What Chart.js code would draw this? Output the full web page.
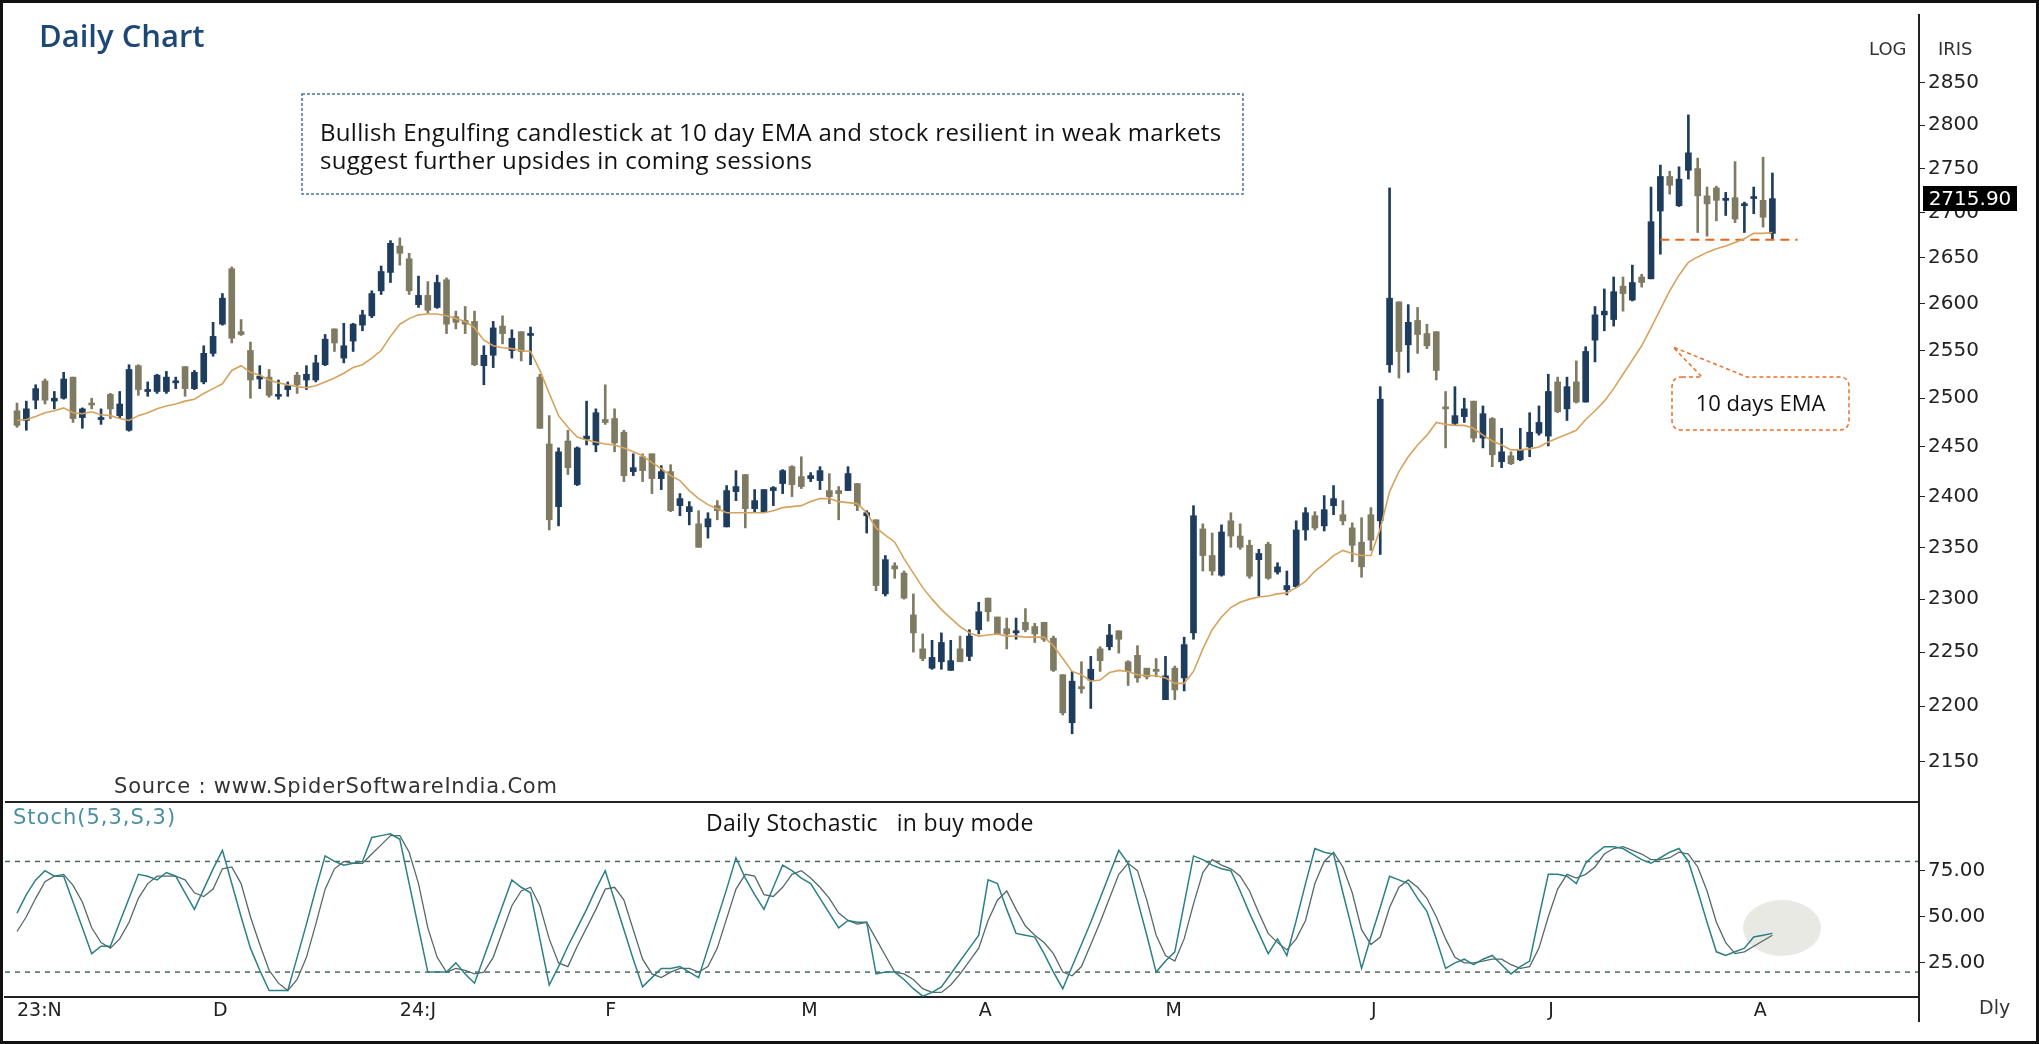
<!DOCTYPE html>
<html>
<head>
<meta charset="utf-8">
<script src="https://cdn.jsdelivr.net/npm/chart.js@4.4.0/dist/chart.umd.min.js"></script>
<style>
  body { margin: 0; background: #fff; }
  #page { position: relative; width: 2039px; height: 1044px; overflow: hidden; background: #fff; }
  canvas { position: absolute; left: 0; }
  svg { position: absolute; left: 0; top: 0; }
  .txt { position: absolute; white-space: pre; line-height: 1; }
  .dv { font-family: "DejaVu Sans", sans-serif; }
  .os { font-family: "Open Sans", sans-serif; }
</style>
</head>
<body>
<div id="page">
  <svg width="2039" height="1044" style="z-index:0">
    <ellipse cx="1782" cy="928" rx="39" ry="28" fill="#e9e9e3" />
  </svg>
  <canvas id="priceChart" width="2039" height="803" style="top:0px; z-index:1"></canvas>
  <canvas id="stochChart" width="2039" height="254" style="top:790px; z-index:1"></canvas>
  <svg width="2039" height="1044" style="z-index:2">
    <rect x="1.5" y="1.5" width="2036" height="1041" fill="none" stroke="#111" stroke-width="3" />
    <line x1="5" y1="802" x2="1919" y2="802" stroke="#222" stroke-width="2" />
    <line x1="1919" y1="15" x2="1919" y2="1022" stroke="#222" stroke-width="2" />
    <rect x="302" y="94" width="941" height="100" fill="none" stroke="#4f7398" stroke-width="1.5" stroke-dasharray="3 2" />
    <path d="M 1682 377 L 1702 377 L 1673 347 L 1747 377 L 1839 377 Q 1849 377 1849 387 L 1849 420 Q 1849 430 1839 430 L 1682 430 Q 1672 430 1672 420 L 1672 387 Q 1672 377 1682 377 Z"
          fill="none" stroke="#e8702a" stroke-width="1.5" stroke-dasharray="4 3" />
  </svg>
  <div style="position:absolute; left:0; top:0; width:2039px; height:1044px; z-index:3">
    <div class="txt os" style="left:39px; top:20px; font-size:31px; font-weight:600; color:#1d4876">Daily Chart</div>
    <div class="txt os" style="left:320px; top:118px; font-size:24px; letter-spacing:0.3px; line-height:28px; color:#111">Bullish Engulfing candlestick at 10 day EMA and stock resilient in weak markets
suggest further upsides in coming sessions</div>
    <div class="txt os" style="left:1672px; width:177px; text-align:center; top:391px; font-size:22px; font-weight:500; color:#111">10 days EMA</div>
    <div class="txt dv" style="left:1869px; top:40px; font-size:18px; color:#333">LOG</div>
    <div class="txt dv" style="left:1938px; top:40px; font-size:18px; color:#333">IRIS</div>
    <div class="txt dv" style="left:1923px; top:186px; width:94px; height:25px; line-height:25px; text-align:center; background:#000; font-size:20px; color:#fff">2715.90</div>
    <div class="txt dv" style="left:114px; top:776px; font-size:21px; letter-spacing:0.8px; color:#333">Source : www.SpiderSoftwareIndia.Com</div>
    <div class="txt dv" style="left:13px; top:807px; font-size:21px; letter-spacing:1px; color:#4b8fa1">Stoch(5,3,S,3)</div>
    <div class="txt os" style="left:706px; top:811px; font-size:23px; font-weight:500; letter-spacing:0.3px; color:#111">Daily Stochastic   in buy mode</div>
    <div class="txt dv" style="left:1979px; top:998px; font-size:19px; color:#333">Dly</div>
  </div>
</div>

<script>
// daily candles, Nov 2023 - Aug 2024
const opens = [
  2487,2477,2498,2518,2497,2500,2522,2480,2495,2478,
  2504,2482,2467,2534,2507,2507,2507,2516,2533,2510,
  2517,2547,2578,2638,2570,2550,2520,2522,2502,2509,
  2524,2519,2519,2535,2573,2542,2560,2577,2587,2614,
  2634,2663,2649,2599,2609,2596,2626,2586,2582,2581,
  2534,2545,2576,2550,2570,2566,2522,2453,2390,2456,
  2412,2458,2452,2478,2479,2465,2425,2440,2443,2418,
  2425,2391,2385,2373,2370,2391,2370,2405,2422,2388,
  2385,2406,2413,2430,2420,2418,2416,2406,2406,2406,
  2413,2381,2377,2305,2332,2325,2285,2253,2235,2241,
  2233,2253,2246,2271,2301,2283,2272,2268,2278,2274,
  2278,2263,2229,2185,2218,2224,2253,2255,2270,2241,
  2247,2235,2234,2206,2235,2226,2268,2368,2342,2323,
  2376,2361,2352,2338,2353,2326,2309,2312,2367,2381,
  2371,2391,2382,2369,2355,2382,2376,2535,2602,2556,
  2582,2568,2570,2491,2474,2481,2497,2459,2479,2435,
  2441,2437,2450,2464,2461,2517,2489,2517,2496,2561,
  2588,2583,2619,2604,2629,2627,2702,2741,2708,2748,
  2750,2719,2728,2714,2717,2708,2716,2714,2677
];
const highs = [
  2495,2497,2514,2520,2507,2527,2522,2490,2500,2489,
  2505,2507,2535,2535,2517,2525,2528,2522,2533,2529,
  2555,2580,2611,2640,2583,2559,2534,2530,2519,2517,
  2527,2534,2545,2567,2573,2579,2579,2593,2614,2641,
  2669,2672,2655,2630,2624,2631,2628,2592,2597,2592,
  2555,2581,2587,2572,2570,2575,2525,2482,2449,2467,
  2450,2497,2489,2514,2489,2467,2443,2443,2443,2431,
  2432,2403,2395,2386,2384,2396,2411,2426,2422,2407,
  2407,2410,2427,2431,2440,2424,2430,2423,2410,2430,
  2413,2386,2377,2342,2335,2327,2305,2267,2261,2268,
  2261,2265,2271,2297,2301,2283,2282,2282,2291,2277,
  2278,2265,2229,2232,2241,2246,2255,2276,2270,2242,
  2256,2235,2244,2246,2237,2264,2391,2373,2364,2372,
  2384,2373,2357,2348,2355,2335,2327,2376,2389,2385,
  2401,2411,2396,2374,2379,2389,2512,2728,2602,2599,
  2596,2578,2570,2507,2512,2500,2497,2492,2480,2469,
  2445,2469,2485,2492,2525,2522,2522,2539,2554,2597,
  2616,2629,2629,2642,2632,2729,2754,2747,2752,2812,
  2762,2729,2730,2723,2758,2712,2729,2763,2745
];
const lows = [
  2470,2467,2489,2494,2489,2499,2475,2469,2489,2473,
  2479,2480,2466,2503,2502,2505,2505,2510,2502,2509,
  2515,2544,2577,2558,2566,2500,2510,2501,2499,2502,
  2505,2509,2517,2534,2549,2537,2549,2571,2585,2610,
  2623,2642,2610,2596,2590,2595,2568,2573,2568,2534,
  2514,2532,2557,2542,2539,2535,2469,2367,2371,2422,
  2411,2452,2445,2473,2445,2415,2421,2415,2403,2407,
  2385,2381,2372,2350,2359,2377,2370,2396,2369,2385,
  2384,2391,2403,2400,2408,2415,2407,2393,2377,2406,
  2386,2364,2308,2303,2320,2300,2250,2242,2234,2234,
  2233,2241,2242,2267,2279,2267,2253,2262,2269,2259,
  2260,2232,2192,2175,2212,2198,2232,2252,2249,2219,
  2222,2225,2227,2206,2206,2214,2262,2327,2323,2322,
  2350,2348,2320,2303,2319,2324,2304,2311,2357,2367,
  2366,2382,2372,2336,2321,2347,2343,2527,2521,2527,
  2547,2552,2519,2449,2472,2475,2455,2449,2430,2429,
  2432,2436,2440,2462,2451,2485,2477,2495,2496,2538,
  2571,2576,2592,2603,2618,2627,2654,2721,2707,2738,
  2678,2674,2691,2697,2689,2678,2699,2684,2670
];
const closes = [
  2472,2489,2510,2498,2500,2520,2479,2489,2493,2479,
  2489,2494,2530,2509,2509,2524,2522,2517,2510,2527,
  2547,2565,2606,2563,2567,2519,2523,2503,2504,2513,
  2514,2525,2537,2562,2558,2555,2578,2588,2611,2635,
  2666,2655,2614,2609,2593,2623,2578,2580,2578,2535,
  2545,2574,2568,2563,2549,2568,2469,2377,2445,2429,
  2449,2461,2485,2475,2454,2421,2429,2426,2418,2425,
  2386,2398,2390,2350,2378,2386,2406,2410,2388,2396,
  2407,2409,2426,2412,2410,2421,2426,2400,2403,2423,
  2391,2384,2313,2338,2329,2301,2268,2244,2245,2259,
  2242,2241,2265,2288,2288,2267,2267,2270,2271,2267,
  2262,2233,2194,2223,2216,2234,2242,2266,2262,2232,
  2226,2227,2232,2228,2215,2257,2381,2342,2327,2365,
  2361,2350,2322,2344,2320,2331,2313,2367,2384,2369,
  2387,2398,2376,2352,2331,2357,2499,2606,2549,2580,
  2567,2555,2529,2489,2482,2489,2459,2484,2442,2445,
  2433,2447,2465,2475,2507,2486,2512,2496,2549,2588,
  2592,2613,2611,2623,2623,2690,2741,2731,2738,2768,
  2719,2710,2714,2716,2693,2710,2718,2695,2715.9
];
// 10 day EMA as drawn on the chart
const ema10 = [
  2477,2478,2481,2485,2487,2490,2485,2484,2486,2483,
  2482,2479,2477,2482,2485,2489,2492,2494,2497,2499,
  2505,2510,2515,2529,2534,2527,2524,2519,2516,2514,
  2512,2511,2513,2517,2521,2526,2532,2535,2542,2550,
  2565,2578,2584,2588,2589,2589,2587,2584,2581,2574,
  2561,2555,2553,2552,2550,2549,2529,2505,2482,2470,
  2460,2457,2455,2453,2452,2449,2445,2441,2434,2428,
  2421,2416,2406,2398,2392,2388,2384,2384,2384,2384,
  2384,2386,2389,2390,2391,2395,2398,2398,2395,2394,
  2393,2384,2369,2362,2355,2339,2325,2311,2300,2290,
  2282,2274,2268,2265,2266,2267,2265,2265,2264,2264,
  2264,2256,2244,2232,2229,2223,2224,2231,2233,2232,
  2229,2228,2228,2226,2221,2221,2232,2253,2271,2283,
  2292,2297,2300,2302,2303,2305,2306,2311,2317,2327,
  2334,2342,2347,2344,2342,2342,2368,2405,2425,2440,
  2452,2462,2475,2473,2472,2472,2469,2462,2456,2452,
  2447,2447,2448,2450,2455,2459,2463,2467,2478,2487,
  2497,2510,2525,2540,2555,2574,2594,2614,2631,2645,
  2651,2656,2660,2663,2667,2671,2677,2677,2678
];
// stochastic (5,3,S,3) lines
const stochK = [
  52,62,70,75,72,72,58,44,30,34,
  34,47,60,73,72,70,74,72,63,54,
  65,76,86,68,50,33,21,10,10,10,
  28,46,65,83,80,78,79,80,93,94,
  95,92,68,44,20,20,20,25,19,14,
  28,42,56,70,66,63,38,13,23,34,
  44,54,65,75,59,43,27,12,17,22,
  22,23,20,17,33,49,65,82,71,62,
  54,66,78,75,71,68,60,52,44,48,
  47,47,19,20,20,16,11,7,9,12,
  19,26,33,40,70,68,54,41,40,39,
  30,20,11,23,35,47,60,73,86,79,
  59,40,20,26,31,57,83,81,78,76,
  75,64,52,41,30,38,29,48,68,87,
  85,84,63,43,22,39,55,72,70,68,
  60,53,38,22,25,27,24,27,29,24,
  19,23,26,50,73,73,72,68,79,84,
  88,88,87,84,81,79,82,85,87,80,
  64,47,31,29,31,33,39,40,41
];
const stochD = [
  42,50,60,69,72,73,67,58,44,36,
  33,38,47,60,68,72,72,72,70,63,
  61,65,76,77,68,50,35,21,14,10,
  16,28,46,65,76,80,79,79,84,89,
  94,94,85,68,44,28,20,22,21,19,
  20,28,42,56,64,66,56,38,25,23,
  34,44,54,65,66,59,43,27,19,17,
  20,22,22,20,23,33,49,65,73,72,
  62,61,66,73,75,71,66,60,52,48,
  46,47,38,29,20,19,16,11,9,9,
  13,19,26,33,48,59,64,54,45,40,
  36,30,20,18,23,35,47,60,73,79,
  75,59,40,29,26,38,57,74,81,78,
  76,72,64,52,41,36,32,38,48,68,
  80,85,77,63,43,35,39,55,66,70,
  66,60,50,38,28,25,25,26,27,27,
  24,22,23,33,50,65,73,71,73,77,
  84,87,88,86,84,81,81,82,85,84,
  77,64,47,36,30,31,34,37,40
];
const monthIdx = [1, 22, 42, 64, 85, 104, 124, 146, 165, 187];
const monthLabels = ['23:N', 'D', '24:J', 'F', 'M', 'A', 'M', 'J', 'J', 'A'];
const priceTicks = [2150, 2200, 2250, 2300, 2350, 2400, 2450, 2500, 2550, 2600, 2650, 2700, 2750, 2800, 2850];
const stochTicks = [25, 50, 75];
const stochLevels = [20, 80];
// support line drawn under the recent highs
const supportLevel = 2670;
const supportFrom = 177;
const supportTo = 191.7;

const xMin = -0.285;
const xMax = 204.7;
const upColor = '#1d3c5e';
const downColor = '#7f7b63';

let bodyPts = [];
let wickPts = [];
let emaPts = [];
let candleColors = [];
for (let i = 0; i < closes.length; i++) {
  let x = i + 1;
  bodyPts.push({ x: x, y: [Math.min(opens[i], closes[i]), Math.max(opens[i], closes[i])] });
  wickPts.push({ x: x, y: [lows[i], highs[i]] });
  emaPts.push({ x: x, y: ema10[i] });
  candleColors.push(closes[i] >= opens[i] ? upColor : downColor);
}

const axisFont = { family: 'DejaVu Sans', size: 20 };

new Chart(document.getElementById('priceChart'), {
  type: 'bar',
  data: {
    datasets: [
      { type: 'line', label: 'EMA 10', data: emaPts, borderColor: '#d6a35c', borderWidth: 1.6, pointRadius: 0, order: 0 },
      { type: 'line', label: 'support', data: [{ x: supportFrom, y: supportLevel }, { x: supportTo, y: supportLevel }],
        borderColor: '#e8651e', borderWidth: 2, borderDash: [9, 6], pointRadius: 0, order: 0 },
      { label: 'body', data: bodyPts, backgroundColor: candleColors, barThickness: 6, minBarLength: 2, grouped: false, order: 1 },
      { label: 'wick', data: wickPts, backgroundColor: candleColors, barThickness: 2, grouped: false, order: 2 }
    ]
  },
  options: {
    responsive: false,
    animation: false,
    devicePixelRatio: 1,
    layout: { padding: { left: 5, top: 10, right: 0, bottom: 1 } },
    plugins: { legend: { display: false }, tooltip: { enabled: false } },
    scales: {
      x: { type: 'linear', min: xMin, max: xMax, offset: false, display: false, grid: { offset: false } },
      y: {
        type: 'logarithmic', position: 'right', min: 2126.6, max: 2931,
        afterBuildTicks: (s) => { s.ticks = priceTicks.map(v => ({ value: v })); },
        afterFit: (s) => { s.width = 120; },
        ticks: { autoSkip: false, callback: (v) => String(v), font: axisFont, color: '#222', padding: 3 },
        grid: { drawOnChartArea: false, drawTicks: true, tickLength: 6, color: '#222' },
        border: { display: true, color: '#222', width: 2 }
      }
    }
  }
});

function levelLine(v) {
  return [{ x: xMin, y: v }, { x: xMax, y: v }];
}

new Chart(document.getElementById('stochChart'), {
  type: 'line',
  data: {
    datasets: [
      { label: '%K', data: stochK.map((v, i) => ({ x: i + 1, y: v })), borderColor: '#2c8084', borderWidth: 1.5, pointRadius: 0 },
      { label: '%D', data: stochD.map((v, i) => ({ x: i + 1, y: v })), borderColor: '#56696a', borderWidth: 1.3, pointRadius: 0 },
      { label: 'upper', data: levelLine(stochLevels[1]), borderColor: '#4a6b5c', borderWidth: 1.5, borderDash: [5, 5], pointRadius: 0 },
      { label: 'lower', data: levelLine(stochLevels[0]), borderColor: '#4a6b5c', borderWidth: 1.5, borderDash: [5, 5], pointRadius: 0 }
    ]
  },
  options: {
    responsive: false,
    animation: false,
    devicePixelRatio: 1,
    layout: { padding: { left: 5, top: 12, right: 0, bottom: 7 } },
    plugins: { legend: { display: false }, tooltip: { enabled: false } },
    scales: {
      x: {
        type: 'linear', min: xMin, max: xMax, offset: false,
        afterBuildTicks: (s) => { s.ticks = monthIdx.map(v => ({ value: v })); },
        afterFit: (s) => { s.height = 40; },
        ticks: { autoSkip: false, maxRotation: 0, align: 'start', padding: 3,
          callback: (v) => monthLabels[monthIdx.indexOf(v)], font: { family: 'DejaVu Sans', size: 19 }, color: '#222' },
        grid: { display: false, drawTicks: false },
        border: { display: true, color: '#222', width: 2 }
      },
      y: {
        position: 'right', min: 6.5, max: 110.6,
        afterBuildTicks: (s) => { s.ticks = stochTicks.map(v => ({ value: v })); },
        afterFit: (s) => { s.width = 120; },
        ticks: { autoSkip: false, callback: (v) => v.toFixed(2), font: axisFont, color: '#222', padding: 3 },
        grid: { drawOnChartArea: false, drawTicks: true, tickLength: 6, color: '#222' },
        border: { display: true, color: '#222', width: 2 }
      }
    }
  }
});
</script>
</body>
</html>
